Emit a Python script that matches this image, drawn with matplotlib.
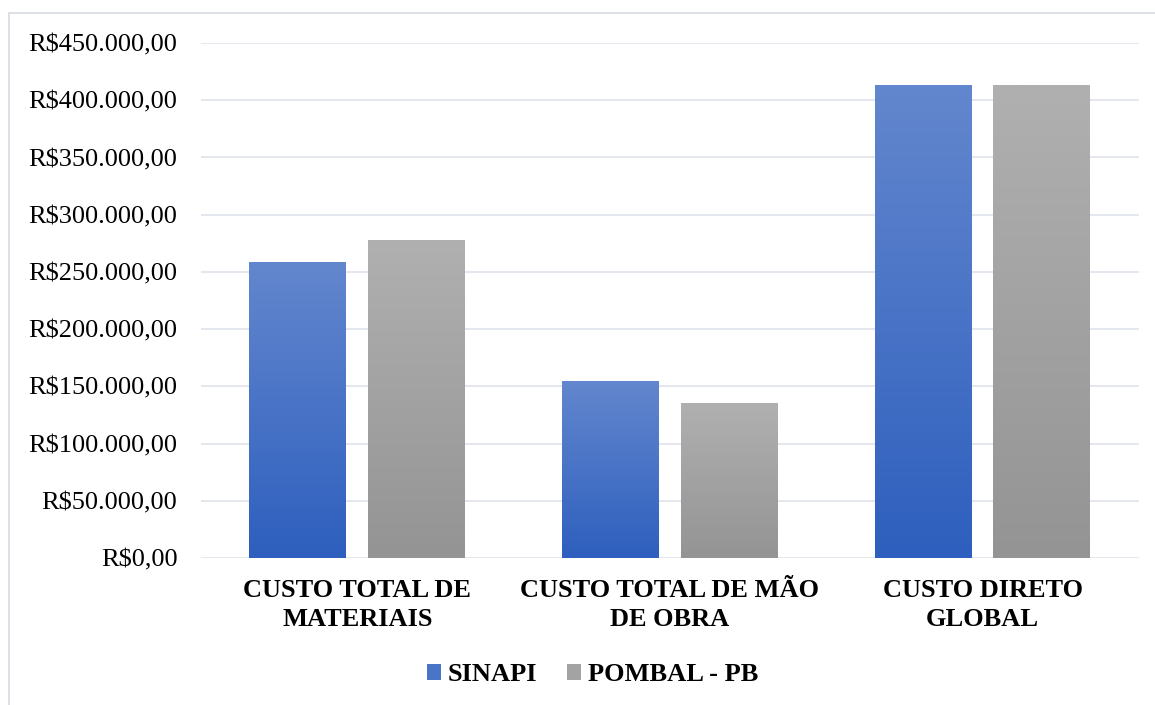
import numpy as np
import matplotlib
matplotlib.use("Agg")
from matplotlib import pyplot as plt
from matplotlib.patches import Rectangle, Patch
from matplotlib.ticker import FuncFormatter
from matplotlib.colors import to_rgb

categories = ["CUSTO TOTAL DE\nMATERIAIS", "CUSTO TOTAL DE MÃO\nDE OBRA", "CUSTO DIRETO\nGLOBAL"]
series_names = ["SINAPI", "POMBAL - PB"]
sinapi = [257800, 153800, 413000]
pombal = [277000, 135400, 413000]
yticks = list(range(0, 450001, 50000))

blue_top, blue_bottom = "#6387CE", "#2E5FBE"
gray_top, gray_bottom = "#B0B0B0", "#949494"

plt.rcParams['font.family'] = ['Liberation Serif', 'DejaVu Serif']

def money(v, pos=None):
    s = f"{int(v):,}".replace(",", ".")
    return f"R${s},00"

def gradient_bar(ax, rect, top, bottom):
    x0 = rect.get_x()
    w = rect.get_width()
    h = rect.get_height()
    t = np.linspace(0, 1, 256)[:, None]
    c0 = np.array(to_rgb(top))
    c1 = np.array(to_rgb(bottom))
    img = c0 * (1 - t)[:, :, None] + c1 * t[:, :, None]
    img = np.repeat(img, 2, axis=1)
    ax.imshow(img, extent=[x0, x0 + w, 0, h], aspect='auto', origin='upper', zorder=3)
    rect.set_visible(False)

fig = plt.figure(figsize=(11.55, 7.05), dpi=100)
ax = fig.add_axes([0.174, 0.2085, 0.812, 0.7305])

x = np.arange(len(categories))
w = 0.31
off = 0.19
bars1 = ax.bar(x - off, sinapi, w, color=blue_bottom, zorder=3)
bars2 = ax.bar(x + off, pombal, w, color=gray_bottom, zorder=3)
for r in bars1:
    gradient_bar(ax, r, blue_top, blue_bottom)
for r in bars2:
    gradient_bar(ax, r, gray_top, gray_bottom)

ax.set_xlim(-0.5, 2.5)
ax.set_ylim(0, 450000)
ax.set_yticks(yticks)
ax.yaxis.set_major_formatter(FuncFormatter(money))
ax.set_xticks(x)
ax.set_xticklabels(categories, fontweight='bold', fontsize=19, linespacing=1.35)
ax.tick_params(axis='y', length=0, pad=17, labelsize=19)
ax.tick_params(axis='x', length=0, pad=15)
ax.grid(axis='y', color='#DDE1E9', linewidth=1.1, zorder=0)
ax.set_axisbelow(True)
for s in ax.spines.values():
    s.set_visible(False)

handles = [Patch(facecolor="#4A74C8", edgecolor='none'),
           Patch(facecolor="#A3A3A3", edgecolor='none')]
fig.legend(handles, series_names, loc='center', bbox_to_anchor=(0.513, 0.043), ncol=2,
           frameon=False, prop={'weight': 'bold', 'size': 19},
           handlelength=0.55, handleheight=0.55, handletextpad=0.25, columnspacing=1.1)

fig.patches.append(Rectangle((9 / 1155, -0.02), 1.05, 1 - 13 / 705 + 0.02,
                             transform=fig.transFigure, fill=False,
                             edgecolor='#D9DEE6', linewidth=1.3))

fig.savefig("out.png", dpi=100)
